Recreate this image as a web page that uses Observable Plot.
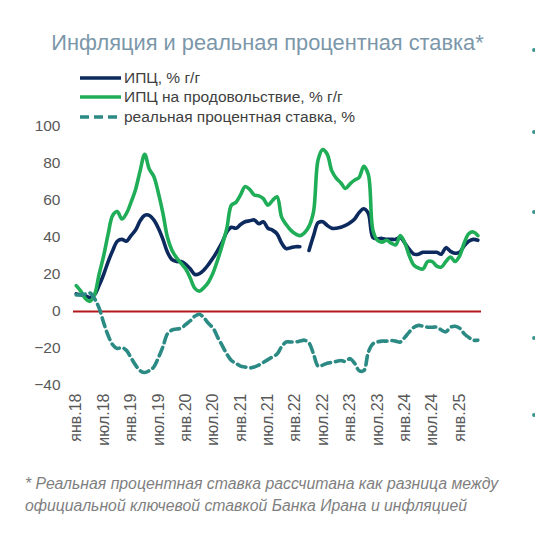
<!DOCTYPE html>
<html><head><meta charset="utf-8">
<script src="https://cdn.jsdelivr.net/npm/d3@7"></script>
<script src="https://cdn.jsdelivr.net/npm/@observablehq/plot@0.6"></script>
<style>
html,body{margin:0;padding:0;background:#fff}
body{width:535px;height:543px;position:relative;overflow:hidden;font-family:"Liberation Sans",Arial,sans-serif}
#title{position:absolute;left:0;width:535px;top:29px;text-align:center;font-size:21.8px;line-height:28px;color:#7b97a9;white-space:nowrap}
#legend{position:absolute;left:80px;top:68px}
.row{height:19.5px;display:flex;align-items:center;font-size:15.5px;color:#404040;white-space:nowrap}
.row svg{margin-right:2px}
#chart{position:absolute;left:0;top:106px}
#caption{position:absolute;left:25px;top:473px;font-size:15.8px;line-height:22px;font-style:italic;color:#7f7f7f;white-space:nowrap}
.dot{position:absolute;left:532px;width:4px;height:4px;border-radius:2px;background:#3f9690}
</style></head>
<body>
<div id="title">Инфляция и реальная процентная ставка*</div>
<div id="legend"></div>
<div id="chart"></div>
<div id="caption">* Реальная процентная ставка рассчитана как разница между<br>официальной ключевой ставкой Банка Ирана и инфляцией</div>
<div class="dot" style="top:48px"></div>
<div class="dot" style="top:130px"></div>
<div class="dot" style="top:210px"></div>
<div class="dot" style="top:336px"></div>
<div class="dot" style="top:413px"></div>
<script>
// Monthly values, Jan 2018 .. May 2025
const tickLabels = ["янв.18","июл.18","янв.19","июл.19","янв.20","июл.20","янв.21","июл.21","янв.22","июл.22","янв.23","июл.23","янв.24","июл.24","янв.25"];
const yTicks = [-40,-20,0,20,40,60,80,100];
const seriesNames = ["ИПЦ, % г/г","ИПЦ на продовольствие, % г/г","реальная процентная ставка, %"];
const seriesColors = ["#0c2a5e","#1fae57","#2b8a84"];

const cpi = [9.5,9,8.5,7.5,9,14,20,27,33,38,39,38,41,44,49,52,52,49.5,45,39,32,28,27,27,25.5,23,20,20.5,22.5,25.5,29,33,37.5,43,45.5,45,47,48.5,49,49.5,47.5,48.5,45,44,42,37,34,34.5,35,35,null,33,41,48,48.5,46.5,45,45,45.5,46.5,48,50,53.5,55.5,53,40,39.3,39.5,39,39,39,40,37,33.5,31,31,32,32,32,32,31,34.5,32.5,31.5,32,35.5,38,39,38.5];
const food = [14,11,7,5.5,9,20,30,42,52,54,50,53,59,66,76,85,77,73,64,53,40,33,29,26,23,18,12.5,11,13,16,21,28,36,45,57.5,59,63,67.5,66,63,62.5,61,57.5,60,62,51,47,44,42,41,42.5,46,54,82,87.5,85,76,72,69.5,66.5,69,71,72.5,78.5,74,44,38.5,37.5,38.5,37,36,41,37,30,25,23.5,23,27,27,24.5,24,27,29.5,27,30,37,42,43,41];
const realRate = [9,9,9.5,10,7,2,-6,-13,-18,-20,-19.5,-21,-25,-29,-32,-33,-32,-30,-25,-19,-12,-10,-9.5,-9,-7,-5,-2.5,-1.5,-3.5,-6.5,-9,-14,-18.5,-23,-26.5,-28,-29.5,-30,-30.5,-30,-29,-27.5,-26,-24.5,-23,-19,-16.5,-16.5,-16.5,-16,-15.5,-17,-23,-29.5,-29,-28,-27.5,-27,-26.5,-27,-25.5,-28,-32,-32,-22,-17.5,-16.5,-16,-16,-15.7,-16,-16.5,-14,-11,-8.5,-7.5,-8,-8.5,-8.5,-8.5,-10,-11,-8.5,-8,-9,-12,-14,-15.5,-15.5];

// legend
const legend = document.getElementById("legend");
seriesNames.forEach((name, i) => {
  const row = document.createElement("div");
  row.className = "row";
  const dash = i === 2 ? ' stroke-dasharray="9,5"' : '';
  row.innerHTML = `<svg width="42" height="6"><line x1="0" y1="3" x2="41" y2="3" stroke="${seriesColors[i]}" stroke-width="3.5"${dash}/></svg><span>${name}</span>`;
  legend.appendChild(row);
});

const rows = cpi.map((v, i) => ({m: i, cpi: v, food: food[i], real: realRate[i]}));
const tickIdx = tickLabels.map((_, i) => i * 6);

const chart = Plot.plot({
  width: 535,
  height: 344,
  marginLeft: 73,
  marginRight: 54,
  marginTop: 20,
  marginBottom: 65,
  style: {fontFamily: "Liberation Sans, Arial, sans-serif", fontSize: "15.5px", color: "#595959", background: "transparent"},
  x: {type: "linear", domain: [-0.6, 88.8], ticks: tickIdx, tickFormat: d => tickLabels[d / 6], tickRotate: -90, tickSize: 0, tickPadding: 8, label: null},
  y: {domain: [-40, 100], ticks: yTicks, tickSize: 0, tickPadding: 13, label: null},
  marks: [
    Plot.ruleY([0], {stroke: "#b3191c", strokeWidth: 2}),
    Plot.lineY(rows, {x: "m", y: "cpi", stroke: seriesColors[0], strokeWidth: 3.6, curve: "catmull-rom"}),
    Plot.lineY(rows, {x: "m", y: "food", stroke: seriesColors[1], strokeWidth: 3.6, curve: "catmull-rom"}),
    Plot.lineY(rows, {x: "m", y: "real", stroke: seriesColors[2], strokeWidth: 3.6, strokeDasharray: "9,5", curve: "catmull-rom"})
  ]
});
chart.querySelectorAll("g[aria-label='x-axis tick label'] text").forEach(t => t.style.fontSize = "16px");
document.getElementById("chart").appendChild(chart);
</script>
</body></html>
